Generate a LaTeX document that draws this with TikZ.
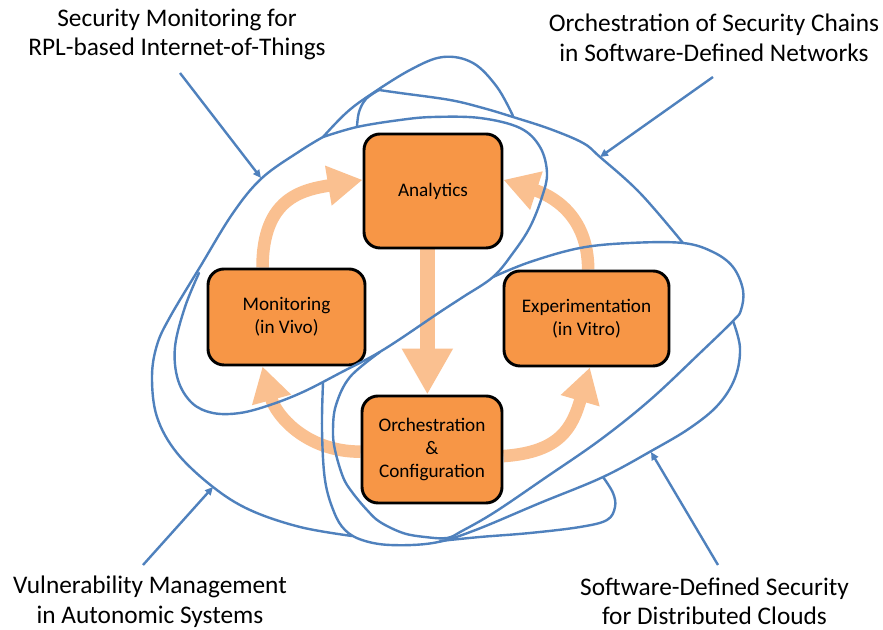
\documentclass[tikz,border=0pt]{standalone}
\usepackage{fontspec}
\setmainfont{Carlito}
\usetikzlibrary{arrows.meta,calc}
\pgfdeclarelayer{bg}
\pgfsetlayers{bg,main}
\definecolor{boxorange}{HTML}{F79646}
\definecolor{peach}{HTML}{FAC090}
\definecolor{setblue}{HTML}{4F81BD}
\begin{document}
\begin{tikzpicture}[x=0.75pt,y=-0.75pt,
  stage/.style={draw=black, line width=2.2pt, fill=boxorange, rounded corners=12pt,
    align=center, font=\fontsize{14.4}{17.25}\selectfont, inner sep=0pt},
  flow/.style={draw=peach, line width=9.4pt, -{Triangle[length=26pt,width=28.5pt]}},
  bigflow/.style={draw=peach, line width=11pt, -{Triangle[length=34.5pt,width=36pt]}},
  setline/.style={draw=setblue, line width=1.8pt, line cap=round, line join=round},
  note/.style={draw=setblue, line width=1.8pt, -{Triangle[length=6pt,width=5.5pt]}},
  lbl/.style={align=center, font=\fontsize{19}{22.1}\selectfont, inner sep=0pt}
]
\useasboundingbox (0,0) rectangle (883,630);
\begin{pgfonlayer}{bg}
\fill[white] (0,0) rectangle (883,630);
\end{pgfonlayer}

% stages
\node[stage, minimum width=103.5pt, minimum height=85.5pt] (ana) at (433,191) {Analytics};
\node[stage, minimum width=117.75pt, minimum height=72pt] (mon) at (286.5,317) {Monitoring\\(in Vivo)};
\node[stage, minimum width=123.75pt, minimum height=71.25pt] (exp) at (586.5,318.5) {Experimentation\\(in Vitro)};
\node[stage, minimum width=105pt, minimum height=80.25pt] (orch) at (432,449.5) {Orchestration\\\&\\Configuration};

% peach cycle arrows
\coordinate (a2s) at ($(ana.south west)!0.46!(ana.south east)$);
\begin{pgfonlayer}{bg}
\draw[flow] ($(mon.north west)!0.35!(mon.north east)$) .. controls +(0,-70) and +(-60,10) .. ($(ana.north west)!0.405!(ana.south west)$);
\draw[bigflow] (a2s) -- (a2s |- orch.north);
\draw[flow] ($(orch.north west)!0.52!(orch.south west)$) .. controls +(-55,0) and +(13,48) .. ($(mon.south west)!0.35!(mon.south east)$);
\draw[flow] ($(orch.north east)!0.56!(orch.south east)$) .. controls +(57,-4) and +(-17.5,60) .. ($(exp.south west)!0.52!(exp.south east)$);
\draw[flow] ($(exp.north west)!0.51!(exp.north east)$) .. controls +(0,-55) and +(47.5,15.5) .. ($(ana.north east)!0.405!(ana.south east)$);
\end{pgfonlayer}

% blue set outlines
\draw[setline] plot[smooth, tension=0.6] coordinates {(323,137) (300,151) (262,178) (233,213) (200,267) (170,317) (157,345) (152,377) (157,417) (177,453) (213,487) (250,510) (300,527) (352,536)};
\draw[setline] plot[smooth, tension=0.6] coordinates {(323,137) (357,127) (400,120) (433,117) (480,118) (520,128) (540,147) (547,173) (542,197) (530,227) (513,253) (493,277) (463,297) (440,312) (383,350) (340,373) (303,392) (270,405) (240,413) (213,413) (192,403) (178,380) (175,347) (185,307) (199,273)};
\draw[setline] plot[smooth, tension=0.6] coordinates {(323,137) (345,114) (367,97) (410,70) (443,57) (473,63) (497,87) (513,116)};
\draw[setline] plot[smooth, tension=0.6] coordinates {(357,127) (359,112) (366,99) (379,90)};
\draw[setline] plot[smooth, tension=0.6] coordinates {(379,90) (400,93) (450,100) (483,108) (513,117) (550,129) (583,143) (600,157) (640,193) (683,243)};
\draw[setline] plot[smooth, tension=0.6] coordinates {(493,277) (530,262) (580,248) (630,243) (683,243) (713,252) (733,267) (743,290) (741,310) (733,321) (700,353) (650,400) (600,440) (545,478) (495,512) (462,531) (447,538) (425,537) (403,533) (380,522) (367,510) (352,492) (343,477) (335,450) (333,430) (336,405) (350,377) (380,352)};
\draw[setline] plot[smooth, tension=0.6] coordinates {(323,383) (322,430) (325,480) (334,512) (345,530) (362,540) (390,545) (433,543) (473,531) (540,503) (603,477) (653,450) (690,428) (718,405) (735,378) (740,348) (733,321)};
\draw[setline] plot[smooth, tension=0.6] coordinates {(603,477) (613,493) (615,507) (607,520) (580,527) (530,533) (480,537) (440,541)};

% labels
\node[lbl] (lblSM) at (177,34.3) {Security Monitoring for\\RPL-based Internet-of-Things};
\node[lbl] (lblSDN) at (714,38) {Orchestration of Security Chains\\in Software-Defined Networks};
\node[lbl] (lblVM) at (150,601.7) {Vulnerability Management\\in Autonomic Systems};
\node[lbl] (lblSDS) at (714.5,601.5) {Software-Defined Security\\for Distributed Clouds};

% pointer arrows
\coordinate (sSM) at (180,73);   \coordinate (tSM) at (261,178);
\coordinate (sSDN) at (713,77);  \coordinate (tSDN) at (600,157);
\coordinate (sVM) at (143,565);  \coordinate (tVM) at (213,487);
\coordinate (sSDS) at (718,565); \coordinate (tSDS) at (651,452);
\draw[note] (sSM) -- (tSM);
\draw[note] (sSDN) -- (tSDN);
\draw[note] (sVM) -- (tVM);
\draw[note] (sSDS) -- (tSDS);
\end{tikzpicture}
\end{document}
